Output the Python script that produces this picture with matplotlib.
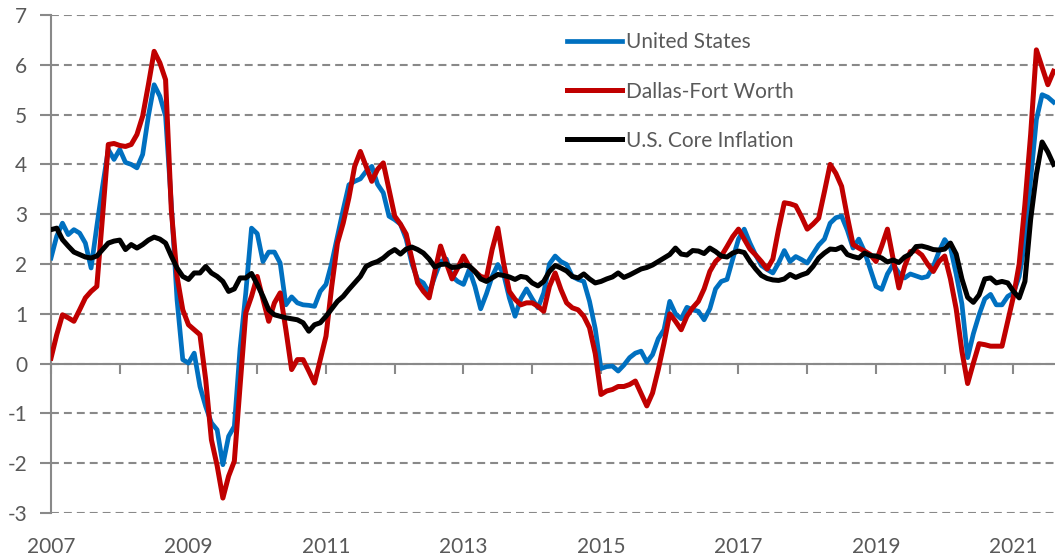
import numpy as np
import matplotlib
matplotlib.use("Agg")
import matplotlib.pyplot as plt

# monthly year-over-year % change, Jan 2007 - Aug 2021
start_year = 2007
united_states = [
    2.12, 2.56, 2.82, 2.59, 2.69, 2.62, 2.42, 1.92, 2.76, 3.56, 4.30, 4.10,
    4.30, 4.04, 4.00, 3.93, 4.20, 4.97, 5.60, 5.37, 4.97, 3.20, 1.28, 0.08,
    0.01, 0.21, -0.46, -0.86, -1.19, -1.33, -2.03, -1.46, -1.26, 0.30, 1.42, 2.72,
    2.61, 2.05, 2.24, 2.24, 2.02, 1.18, 1.34, 1.22, 1.18, 1.17, 1.15, 1.45,
    1.59, 2.02, 2.56, 3.09, 3.59, 3.66, 3.71, 3.86, 3.96, 3.60, 3.43, 2.96,
    2.89, 2.80, 2.50, 2.00, 1.69, 1.62, 1.42, 1.75, 2.05, 2.10, 1.75, 1.65,
    1.59, 1.89, 1.55, 1.10, 1.40, 1.75, 1.99, 1.80, 1.32, 0.95, 1.30, 1.50,
    1.30, 1.12, 1.42, 2.00, 2.16, 2.05, 1.99, 1.75, 1.69, 1.65, 1.25, 0.70,
    -0.10, -0.06, -0.05, -0.15, -0.03, 0.12, 0.21, 0.25, 0.03, 0.18, 0.50, 0.68,
    1.25, 1.00, 0.90, 1.13, 1.08, 1.05, 0.88, 1.10, 1.50, 1.65, 1.69, 2.10,
    2.50, 2.70, 2.42, 2.18, 1.97, 1.89, 1.82, 2.02, 2.27, 2.05, 2.15, 2.09,
    2.02, 2.20, 2.38, 2.50, 2.82, 2.93, 2.96, 2.68, 2.32, 2.50, 2.25, 1.90,
    1.55, 1.49, 1.80, 1.99, 1.82, 1.72, 1.80, 1.76, 1.72, 1.75, 1.95, 2.25,
    2.49, 2.33, 1.80, 1.20, 0.12, 0.60, 0.98, 1.30, 1.39, 1.18, 1.18, 1.35,
    1.42, 1.75, 2.45, 3.70, 4.90, 5.40, 5.35, 5.25,
]
dallas_fort_worth = [
    0.11, 0.58, 0.98, 0.92, 0.85, 1.08, 1.32, 1.45, 1.55, 2.96, 4.40, 4.42,
    4.38, 4.36, 4.40, 4.60, 4.97, 5.60, 6.27, 6.04, 5.70, 3.09, 1.75, 1.08,
    0.78, 0.68, 0.58, -0.32, -1.53, -2.05, -2.70, -2.26, -1.96, -0.45, 1.02, 1.35,
    1.75, 1.29, 0.85, 1.22, 1.42, 0.68, -0.12, 0.08, 0.08, -0.15, -0.39, 0.08,
    0.55, 1.55, 2.42, 2.82, 3.33, 3.96, 4.26, 3.96, 3.66, 3.90, 4.03, 3.49,
    2.96, 2.80, 2.60, 2.10, 1.62, 1.45, 1.32, 1.85, 2.36, 2.02, 1.70, 1.92,
    2.16, 1.95, 1.85, 1.75, 1.72, 2.29, 2.72, 2.02, 1.45, 1.29, 1.18, 1.22,
    1.22, 1.15, 1.05, 1.55, 1.82, 1.49, 1.22, 1.12, 1.08, 0.95, 0.72, 0.20,
    -0.62, -0.55, -0.52, -0.46, -0.46, -0.42, -0.35, -0.60, -0.85, -0.59, -0.12, 0.41,
    1.00, 0.85, 0.68, 0.95, 1.12, 1.25, 1.50, 1.85, 2.05, 2.16, 2.35, 2.55,
    2.70, 2.50, 2.30, 2.18, 2.05, 1.90, 2.10, 2.70, 3.23, 3.21, 3.17, 2.95,
    2.70, 2.80, 2.92, 3.45, 4.00, 3.82, 3.56, 2.95, 2.39, 2.32, 2.26, 2.19,
    2.05, 2.36, 2.70, 2.10, 1.52, 1.95, 2.25, 2.27, 2.18, 2.00, 1.85, 2.05,
    2.16, 1.70, 1.10, 0.25, -0.40, 0.01, 0.40, 0.38, 0.35, 0.35, 0.35, 0.85,
    1.35, 2.00, 3.20, 4.60, 6.30, 5.95, 5.60, 5.87,
]
core_inflation = [
    2.69, 2.72, 2.49, 2.36, 2.24, 2.19, 2.14, 2.12, 2.16, 2.29, 2.42, 2.46,
    2.48, 2.29, 2.39, 2.32, 2.39, 2.48, 2.54, 2.50, 2.42, 2.16, 1.92, 1.75,
    1.69, 1.82, 1.82, 1.95, 1.82, 1.75, 1.65, 1.45, 1.50, 1.72, 1.72, 1.81,
    1.59, 1.35, 1.08, 0.98, 0.95, 0.92, 0.90, 0.88, 0.82, 0.65, 0.78, 0.82,
    0.95, 1.10, 1.25, 1.35, 1.49, 1.62, 1.75, 1.95, 2.01, 2.05, 2.12, 2.22,
    2.29, 2.20, 2.30, 2.34, 2.29, 2.22, 2.10, 1.94, 1.99, 2.00, 1.93, 1.94,
    1.98, 1.96, 1.85, 1.70, 1.65, 1.72, 1.79, 1.77, 1.74, 1.69, 1.75, 1.73,
    1.62, 1.56, 1.65, 1.85, 1.97, 1.92, 1.86, 1.75, 1.72, 1.80, 1.70, 1.62,
    1.65, 1.70, 1.74, 1.82, 1.73, 1.78, 1.84, 1.90, 1.93, 1.98, 2.05, 2.12,
    2.19, 2.32, 2.20, 2.18, 2.27, 2.26, 2.21, 2.32, 2.25, 2.16, 2.14, 2.22,
    2.26, 2.23, 2.05, 1.90, 1.77, 1.71, 1.68, 1.67, 1.70, 1.79, 1.73, 1.78,
    1.82, 1.95, 2.12, 2.22, 2.30, 2.29, 2.34, 2.19, 2.15, 2.12, 2.22, 2.17,
    2.16, 2.12, 2.04, 2.08, 2.03, 2.14, 2.20, 2.35, 2.36, 2.33, 2.29, 2.28,
    2.30, 2.42, 2.20, 1.70, 1.33, 1.23, 1.38, 1.70, 1.72, 1.62, 1.65, 1.62,
    1.45, 1.32, 1.65, 2.90, 3.80, 4.45, 4.25, 4.00,
]
series_names = ["United States", "Dallas-Fort Worth", "U.S. Core Inflation"]
year_labels = [str(y) for y in range(2007, 2022, 2)]

GRAY = "#898989"
TEXT = "#595959"
plt.rcParams["font.family"] = ["Lato", "DejaVu Sans"]
plt.rcParams["axes.unicode_minus"] = False

months = np.arange(len(united_states))

fig = plt.figure(figsize=(10.55, 5.58), dpi=100)
ax = fig.add_axes([51 / 1055, 45 / 558, 1004 / 1055, 498 / 558])

ax.plot(months, united_states, color="#0070C0", lw=3.4, label=series_names[0],
        solid_joinstyle="round", zorder=3)
ax.plot(months, dallas_fort_worth, color="#C00000", lw=3.6, label=series_names[1],
        solid_joinstyle="round", zorder=4)
ax.plot(months, core_inflation, color="#000000", lw=3.6, label=series_names[2],
        solid_joinstyle="round", zorder=5)

ax.set_xlim(0, len(months) - 0.75)
ax.set_ylim(-3, 7)

# dashed horizontal gridlines
ax.set_yticks(np.arange(-3, 8, 1))
ax.yaxis.grid(True, color=GRAY, lw=1.5, ls=(0, (3.8, 2.4)))
ax.set_axisbelow(True)

ax.tick_params(axis="y", direction="out", length=8, width=1.5, color=GRAY,
               labelcolor=TEXT, labelsize=15, pad=9)
ax.set_xticks(np.arange(0, len(months), 24))
ax.set_xticklabels(year_labels)
ax.tick_params(axis="x", length=0, labelcolor=TEXT, labelsize=15, pad=17)

for side in ["top", "right", "bottom"]:
    ax.spines[side].set_visible(False)
ax.spines["left"].set_color(GRAY)
ax.spines["left"].set_linewidth(1.5)

# solid zero axis with yearly ticks
zero = ax.secondary_xaxis(0.3)
zero.set_xticks(np.arange(0, len(months), 12))
zero.xaxis.set_ticks_position("bottom")
zero.tick_params(axis="x", direction="out", length=7, width=1.5, color=GRAY,
                 labelbottom=False, labeltop=False)
zero.spines["bottom"].set_color(GRAY)
zero.spines["bottom"].set_linewidth(1.5)
zero.spines["top"].set_visible(False)

leg = ax.legend(loc="upper left", bbox_to_anchor=(0.514, 0.965), frameon=False,
                fontsize=15, handlelength=2.65, handletextpad=0.2,
                labelspacing=1.4, borderpad=0, borderaxespad=0)
for txt in leg.get_texts():
    txt.set_color(TEXT)

fig.savefig("out.png", dpi=100)
